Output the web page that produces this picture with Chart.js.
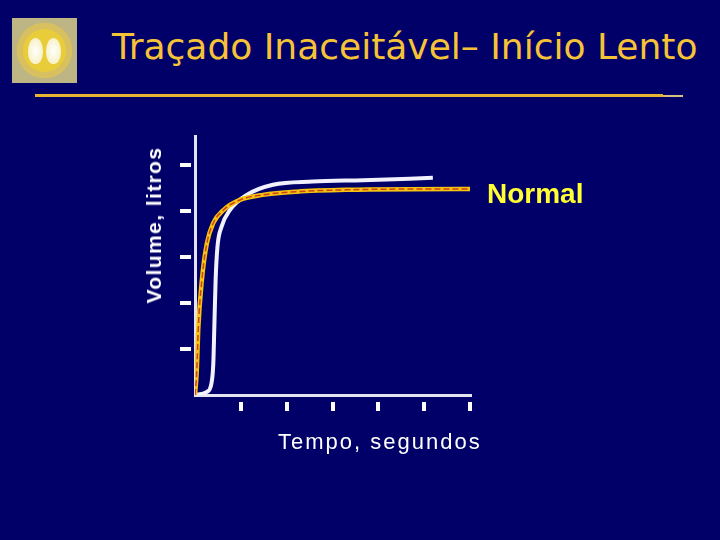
<!DOCTYPE html>
<html>
<head>
<meta charset="utf-8">
<script src="https://cdn.jsdelivr.net/npm/chart.js@4"></script>
<style>
  body { margin: 0; background: #000068; }
  #wrap { position: relative; width: 720px; height: 540px; overflow: hidden; background: #000068; }
  #c { position: absolute; left: 0; top: 0; }
  .txt { position: absolute; white-space: nowrap; }
  #title { left: 112px; top: 26px; font: 36px "DejaVu Sans", sans-serif; color: #f7c336; }
  #rule { position: absolute; left: 35px; top: 94px; width: 628px; height: 3px; background: #e8b533; }
  #rule2 { position: absolute; left: 663px; top: 95px; width: 20px; height: 2px; background: #d9c07a; }
  #ylab { left: 154px; top: 225px; transform: translate(-50%, -50%) rotate(-90deg); font: bold 21px "Liberation Sans", sans-serif; color: #fff; letter-spacing: 1.4px; }
  #xlab { left: 278px; top: 429px; font: 22px "Liberation Sans", sans-serif; color: #fff; letter-spacing: 2px; }
  #normal { left: 487px; top: 178px; font: bold 28px "Liberation Sans", sans-serif; color: #ffff33; }
  #logo { position: absolute; left: 12px; top: 18px; width: 65px; height: 65px; background: #bdb584; }
  #ring { position: absolute; left: 5px; top: 5px; width: 55px; height: 55px; border-radius: 50%; background: #e9cc3a; box-shadow: inset 0 0 0 6px #d8c060; }
  .lung { position: absolute; top: 15px; width: 15px; height: 26px; border-radius: 50% 50% 45% 45%; background: radial-gradient(#ffffff, #f3ecb0); }
</style>
</head>
<body>
<div id="wrap">
  <div id="logo"><div id="ring"><div class="lung" style="left:11px"></div><div class="lung" style="left:29px"></div></div></div>
  <div id="title" class="txt">Traçado Inaceitável– Início Lento</div>
  <div id="rule"></div><div id="rule2"></div>
  <canvas id="c" width="720" height="540"></canvas>
  <div id="ylab" class="txt">Volume, litros</div>
  <div id="xlab" class="txt">Tempo, segundos</div>
  <div id="normal" class="txt">Normal</div>
</div>
<script>
// tempo (s) e volume (L)
const lentoX = [0, 0.26, 0.36, 0.40, 0.42, 0.45, 0.49, 0.58, 0.76, 1.13, 1.70, 2.57, 3.67, 5.19];
const lentoY = [0, 0.07, 0.26, 0.70, 1.41, 2.50, 3.22, 3.66, 4.02, 4.35, 4.57, 4.64, 4.67, 4.72];
const normalX = [0, 0.04, 0.07, 0.15, 0.26, 0.40, 0.62, 0.98, 1.48, 2.22, 3.31, 5.78, 6.02];
const normalY = [0, 0.54, 1.41, 2.50, 3.30, 3.74, 4.02, 4.24, 4.35, 4.42, 4.46, 4.48, 4.48];
const xTicks = [1, 2, 3, 4, 5, 6];
const yTicks = [1, 2, 3, 4, 5];

const pts = (xs, ys) => xs.map((x, i) => ({ x: x, y: ys[i] }));

new Chart(document.getElementById('c'), {
  type: 'line',
  data: {
    datasets: [
      {
        label: 'Normal (tracejado)',
        data: pts(normalX, normalY),
        borderColor: '#d2401a',
        borderWidth: 1.5,
        borderDash: [6, 3],
        cubicInterpolationMode: 'monotone',
        pointRadius: 0
      },
      {
        label: 'Normal',
        data: pts(normalX, normalY),
        borderColor: '#f5c410',
        borderWidth: 4.5,
        cubicInterpolationMode: 'monotone',
        pointRadius: 0
      },
      {
        label: 'Início lento',
        data: pts(lentoX, lentoY),
        borderColor: '#f2f2ff',
        borderWidth: 4,
        cubicInterpolationMode: 'monotone',
        pointRadius: 0
      }
    ]
  },
  options: {
    responsive: false,
    animation: false,
    layout: { padding: { left: 180, right: 250, top: 136, bottom: 129 } },
    plugins: { legend: { display: false }, tooltip: { enabled: false } },
    scales: {
      x: {
        type: 'linear',
        min: 0,
        max: 6,
        afterBuildTicks: s => { s.ticks = xTicks.map(v => ({ value: v })); },
        ticks: { display: false },
        border: { color: '#e4e4f0', width: 3 },
        grid: {
          drawOnChartArea: false,
          color: '#ffffff',
          lineWidth: 4,
          tickLength: 16,
          tickBorderDash: [11, 5],
          tickBorderDashOffset: 11
        }
      },
      y: {
        type: 'linear',
        min: 0,
        max: 5.63,
        afterBuildTicks: s => { s.ticks = yTicks.map(v => ({ value: v })); },
        ticks: { display: false },
        border: { color: '#e4e4f0', width: 3 },
        grid: {
          drawOnChartArea: false,
          color: '#ffffff',
          lineWidth: 4,
          tickLength: 15,
          tickBorderDash: [11, 4],
          tickBorderDashOffset: 0
        }
      }
    }
  }
});
</script>
</body>
</html>
